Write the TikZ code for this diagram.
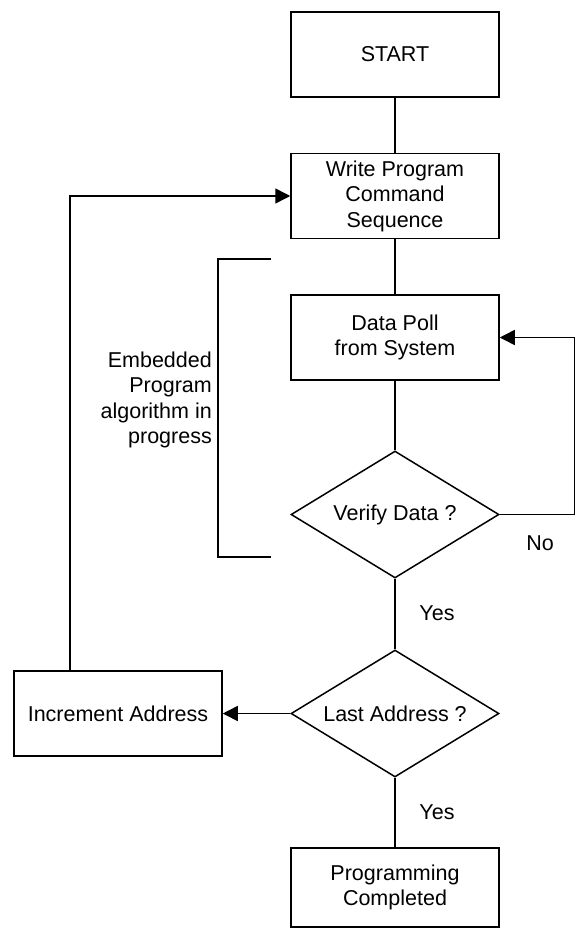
\documentclass[tikz,border=0pt]{standalone}
\usepackage{fontspec}
\setmainfont{Liberation Sans}
\usetikzlibrary{shapes.geometric,arrows.meta}
\tikzset{
  base/.style={draw=black, line width=1.5pt, font=\fontsize{21.5}{25.5}\selectfont, align=center, inner sep=0pt},
  procbox/.style={base, rectangle, minimum width=208pt, minimum height=85pt},
  decide/.style={base, diamond, aspect=1.64, minimum width=208pt, minimum height=127pt},
  conn/.style={line width=1.5pt},
  arr/.style={conn, -{Triangle[length=15pt,width=15pt]}},
  lbl/.style={font=\fontsize{21.5}{25.5}\selectfont, inner sep=0pt, align=center}
}
\begin{document}
\begin{tikzpicture}[x=1pt,y=-1pt]
\useasboundingbox (0,0) rectangle (576,928);
\node[procbox] (start) at (395,54.5) {START};
\node[procbox] (write) at (395,196) {Write Program\\Command\\Sequence};
\node[procbox] (poll) at (395,337.5) {Data Poll\\from System};
\node[decide] (verify) at (395,514.5) {Verify Data ?};
\node[decide] (last) at (395,713.5) {Last Address ?};
\node[procbox] (incr) at (118,713.5) {Increment Address};
\node[procbox, minimum height=79pt] (done) at (395,887.5) {Programming\\Completed};
\node[lbl, align=right, anchor=east] (emb) at (212,400) {Embedded\\Program\\algorithm in\\progress};
\node[lbl] (no) at (540,543) {No};
\node[lbl] (yes1) at (437,613) {Yes};
\node[lbl] (yes2) at (437,812) {Yes};
\coordinate (rx) at (574.5,0);
\coordinate (lx) at (70,0);
\draw[conn] (start) -- (write);
\draw[conn] (write) -- (poll);
\draw[conn] (poll) -- (verify);
\draw[arr] (verify.east) -- (verify.east -| rx) |- (poll.east);
\draw[conn] (verify) -- (last);
\draw[arr] (last.west) -- (incr.east);
\draw[arr] (incr.north -| lx) |- (write.west);
\draw[conn] (last) -- (done);
\draw[conn] (271,259) -- (218,259) -- (218,557) -- (271,557);
\end{tikzpicture}
\end{document}
